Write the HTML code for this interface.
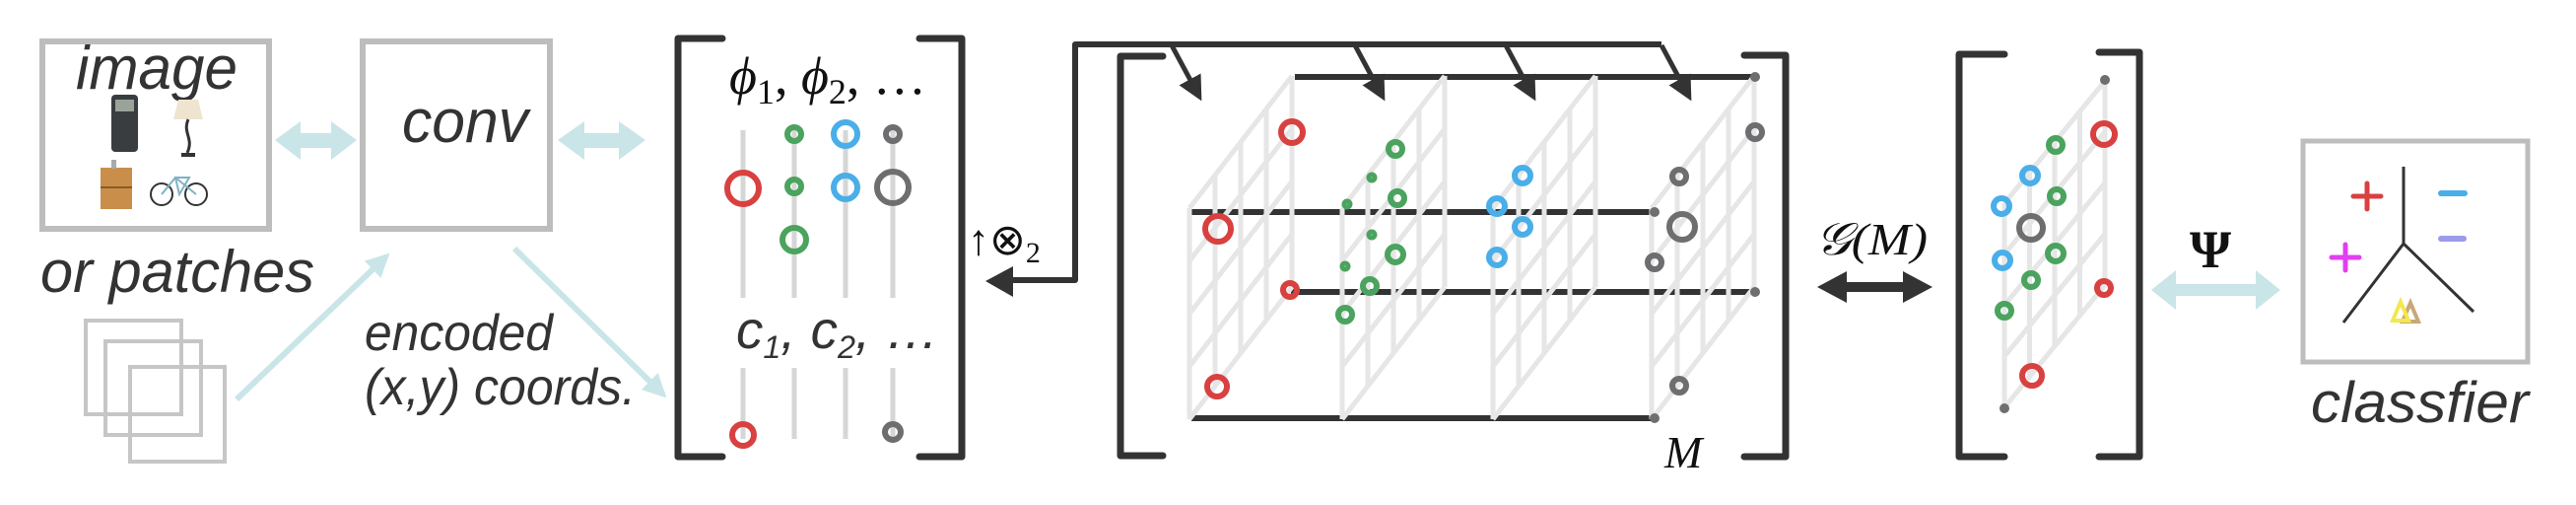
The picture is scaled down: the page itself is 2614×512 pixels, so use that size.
<!DOCTYPE html>
<html><head><meta charset="utf-8"><style>
html,body{margin:0;padding:0;background:#fff;}
svg{display:block;}
.sans{font-family:"Liberation Sans",sans-serif;font-style:italic;fill:#333;}
.serif{font-family:"Liberation Serif",serif;fill:#111;}
</style></head><body>
<svg id="fig" width="2614" height="512" viewBox="0 0 2614 512" xmlns="http://www.w3.org/2000/svg">
<defs>
<marker id="lbArrow" viewBox="0 0 10 10" refX="8" refY="5" markerWidth="4" markerHeight="4" orient="auto"><path d="M0,0 L10,5 L0,10 z" fill="#c9e5e8"/></marker>
<marker id="dkArrow" viewBox="0 0 10 10" refX="8" refY="5" markerWidth="5" markerHeight="5" orient="auto"><path d="M0,0 L10,5 L0,10 z" fill="#333"/></marker>
</defs>

<g>
<rect x="43" y="42" width="230" height="190" fill="none" stroke="#bdbdbd" stroke-width="6"/>
<text class="sans" x="77" y="90" font-size="62" textLength="164" lengthAdjust="spacingAndGlyphs">image</text>
<g><rect x="113" y="96" width="27" height="58" rx="4" fill="#3a3d40"/><rect x="117" y="101" width="19" height="12" fill="#9aa39a"/></g>
<g><path d="M181,101 L201,101 L206,121 L176,121 Z" fill="#efe4cf"/><path d="M191,121 C185,135 197,140 190,155" stroke="#333" stroke-width="3" fill="none"/><rect x="184" y="155" width="14" height="4" fill="#333"/></g>
<g><rect x="102" y="170" width="32" height="42" fill="#c98f4a"/><line x1="102" y1="190" x2="134" y2="190" stroke="#8a5a25" stroke-width="2"/><rect x="113" y="162" width="5" height="9" fill="#aaa"/></g>
<g fill="none" stroke="#333" stroke-width="2"><circle cx="164" cy="197" r="11"/><circle cx="199" cy="197" r="11"/><path d="M164,197 L178,180 L199,197 M178,180 L192,180 L182,197 Z" stroke="#7fb2c4"/></g>
</g>

<g>
<rect x="368" y="42" width="190" height="190" fill="none" stroke="#bdbdbd" stroke-width="6"/>
<text class="sans" x="408" y="144" font-size="62" textLength="128" lengthAdjust="spacingAndGlyphs">conv</text>
</g>

<g fill="#c9e5e8">
<path d="M279,142 L305,123 L305,135 L336,135 L336,123 L362,142 L336,162 L336,150 L305,150 L305,162 Z"/>
<path d="M566,142 L593,123 L593,135 L628,135 L628,123 L655,142 L628,162 L628,150 L593,150 L593,162 Z"/>
<path d="M2183,294 L2208,274 L2208,288 L2289,288 L2289,274 L2314,294 L2289,314 L2289,300 L2208,300 L2208,314 Z"/>
</g>

<text class="sans" x="41" y="296" font-size="60" textLength="278" lengthAdjust="spacingAndGlyphs">or patches</text>
<g fill="none" stroke="#c6c6c6" stroke-width="4">
<rect x="87" y="325" width="97" height="95"/><rect x="107" y="346" width="97" height="95"/><rect x="132" y="372" width="96" height="96"/>
</g>
<line x1="240" y1="405" x2="392" y2="260" stroke="#c9e5e8" stroke-width="6" marker-end="url(#lbArrow)"/>
<line x1="522" y1="252" x2="673" y2="400" stroke="#c9e5e8" stroke-width="6" marker-end="url(#lbArrow)"/>
<text class="sans" x="370" y="355" font-size="52" textLength="191" lengthAdjust="spacingAndGlyphs">encoded</text>
<text class="sans" x="370" y="410" font-size="52" textLength="275" lengthAdjust="spacingAndGlyphs">(x,y) coords.</text>

<g fill="none" stroke="#333" stroke-width="7" stroke-linecap="round" stroke-linejoin="round">
<path d="M733,39 L688,39 L688,463 L733,463"/>
<path d="M933,39 L976,39 L976,463 L933,463"/>
<path d="M1180,57 L1137,57 L1137,462 L1180,462"/>
<path d="M1770,56 L1812,56 L1812,463 L1770,463"/>
<path d="M2034,55 L1988,55 L1988,463 L2034,463"/>
<path d="M2130,53 L2171,53 L2171,463 L2130,463"/>
</g>

<text class="serif" x="740" y="95" font-size="54"><tspan font-style="italic">ϕ</tspan><tspan font-size="36" dy="10">1</tspan><tspan dy="-10">, </tspan><tspan font-style="italic">ϕ</tspan><tspan font-size="36" dy="10">2</tspan><tspan dy="-10">, …</tspan></text>
<text class="sans" x="747" y="353" font-size="54" textLength="206" lengthAdjust="spacingAndGlyphs">c<tspan font-size="32" dy="10">1</tspan><tspan dy="-10">, c</tspan><tspan font-size="32" dy="10">2</tspan><tspan dy="-10">, …</tspan></text>

<g id="featCols"></g>

<g stroke="#333" stroke-width="6" fill="none">
<line x1="1314" y1="78" x2="1781" y2="78"/>
<line x1="1209" y1="215" x2="1679" y2="215"/>
<line x1="1310" y1="296" x2="1781" y2="296"/>
<line x1="1209" y1="424" x2="1679" y2="424"/>
</g>
<g id="grids"></g>

<g stroke="#333" stroke-width="6" fill="none" stroke-linejoin="round">
<path d="M1686,45 L1091,45 L1091,284 L1020,284"/>
<path d="M1028,270 L1000,285 L1028,301 Z" fill="#333" stroke="none"/>
</g>
<g id="branches"></g>
<text class="serif" x="982" y="258" font-size="44">↑⊗<tspan font-size="30" dy="8">2</tspan></text>
<text class="serif" x="1689" y="474" font-size="46" font-style="italic">M</text>

<g id="circles"></g>

<text class="serif" x="1842" y="258" font-size="46" font-style="italic" textLength="114" lengthAdjust="spacingAndGlyphs">𝒢(M)</text>
<path d="M1844,291 L1874,275 L1874,286 L1931,286 L1931,275 L1961,291 L1931,307 L1931,296 L1874,296 L1874,307 Z" fill="#333"/>
<text class="serif" x="2222" y="271" font-size="54" font-weight="bold">Ψ</text>

<g>
<rect x="2337" y="143" width="228" height="224" fill="none" stroke="#bdbdbd" stroke-width="5"/>
<path d="M2439,169 L2439,247 L2378,327 M2439,247 L2510,316" stroke="#333" stroke-width="3" fill="none"/>
<path d="M2388,199 L2416,199 M2402,186 L2402,212" stroke="#d94040" stroke-width="5" stroke-linecap="round"/>
<path d="M2366,261 L2394,261 M2380,248 L2380,274" stroke="#e040f0" stroke-width="5" stroke-linecap="round"/>
<path d="M2477,196 L2501,196" stroke="#4aaee8" stroke-width="6" stroke-linecap="round"/>
<path d="M2477,242 L2500,242" stroke="#9b9bec" stroke-width="6" stroke-linecap="round"/>
<path d="M2446,307 L2454,326 L2438,326 Z" fill="none" stroke="#c8a878" stroke-width="4"/>
<path d="M2436,306 L2444,325 L2428,325 Z" fill="none" stroke="#f2e850" stroke-width="4"/>
</g>
<text class="sans" x="2345" y="428" font-size="58" textLength="221" lengthAdjust="spacingAndGlyphs">classfier</text>
</svg>
<script>
const colX=[754,806,858,906];
const upperCircles=[[0,191,19],[1,136,10],[1,189,10],[1,243,15],[2,136,15],[2,190,15],[3,136,10],[3,190,19],[0,441,14],[3,438,11]];
const upperColors=["#d94040","#4aa35e","#4aa35e","#4aa35e","#4aaee8","#4aaee8","#6e6e70","#6e6e70","#d94040","#6e6e70"];
const sliceX=[1207,1362,1515,1676];
const tensorCircles=[[1311,134,14,"#d94040"],[1236,232,16,"#d94040"],[1309,294,10,"#d94040"],[1235,392,13,"#d94040"],
[1416,151,10,"#4aa35e"],[1392,180,6,"#4aa35e"],[1418,201,10,"#4aa35e"],[1367,207,6,"#4aa35e"],[1392,238,6,"#4aa35e"],[1416,258,11,"#4aa35e"],[1365,270,6,"#4aa35e"],[1390,290,10,"#4aa35e"],[1365,319,10,"#4aa35e"],
[1545,178,11,"#4aaee8"],[1519,209,11,"#4aaee8"],[1545,230,11,"#4aaee8"],[1519,261,11,"#4aaee8"],
[1781,134,10,"#6e6e70"],[1704,179,10,"#6e6e70"],[1707,230,16,"#6e6e70"],[1679,266,10,"#6e6e70"],[1704,391,10,"#6e6e70"]];
const graphCircles=[[2135,136,14,"#d94040"],[2086,147,10,"#4aa35e"],[2060,178,11,"#4aaee8"],[2087,199,10,"#4aa35e"],[2031,209,11,"#4aaee8"],[2061,231,15,"#6e6e70"],[2086,257,11,"#4aa35e"],[2032,264,11,"#4aaee8"],[2061,284,10,"#4aa35e"],[2135,292,10,"#d94040"],[2034,315,10,"#4aa35e"],[2062,381,13,"#d94040"]];
const endDots=[[1781,78],[1679,215],[1781,296],[1679,424],[2136,81],[2034,414]];
const branchStarts=[1189,1375,1528,1686];

const NS="http://www.w3.org/2000/svg";
function mk(tag,attrs,parent){const e=document.createElementNS(NS,tag);for(const k in attrs)e.setAttribute(k,attrs[k]);parent.appendChild(e);return e;}
const fc=document.getElementById('featCols');
colX.forEach((x,i)=>{
 const a=mk('line',{x1:x,y1:132,x2:x,y2:302,stroke:'#d6d6d6','stroke-width':5},fc);
 
 
 const b=mk('line',{x1:x,y1:373,x2:x,y2:445,stroke:'#d6d6d6','stroke-width':5},fc);
 
 
});
upperCircles.forEach((c,i)=>{
 const e=mk('circle',{cx:colX[c[0]],cy:c[1],r:c[2]-3,fill:'none',stroke:upperColors[i],'stroke-width':6},fc);
 
 
});
const g=document.getElementById('grids');
function grid(x0,w,yt,yb,dy,name){
 const gg=mk('g',{stroke:'#e6e6e6','stroke-width':5,fill:'none'},g);
 
 
 for(let i=0;i<=4;i++){const x=x0+i*w/4,s=i*dy/4;mk('line',{x1:x,y1:yb-s,x2:x,y2:yt-s},gg);}
 for(let j=0;j<=4;j++){const y=yt+j*(yb-yt)/4;mk('line',{x1:x0,y1:y,x2:x0+w,y2:y-dy},gg);}
}
sliceX.forEach(x=>grid(x,104,211,425,134,'tensor-slice-grid'));
grid(2034,102,206,413,124,'graph-grid');
const br=document.getElementById('branches');
branchStarts.forEach(x=>{
 const l=mk('line',{x1:x,y1:46,x2:x+28,y2:98,stroke:'#333','stroke-width':5,'marker-end':'url(#dkArrow)'},br);
 
 
});
const cg=document.getElementById('circles');
tensorCircles.concat(graphCircles).forEach(c=>{
 const e=mk('circle',{cx:c[0],cy:c[1],r:c[2]-3,fill:'none',stroke:c[3],'stroke-width':c[2]>8?6:5},cg);
 
 
});
endDots.forEach(d=>{
 const e=mk('circle',{cx:d[0],cy:d[1],r:5,fill:'#6e6e70'},cg);
 
 
});
</script>
</body></html>
